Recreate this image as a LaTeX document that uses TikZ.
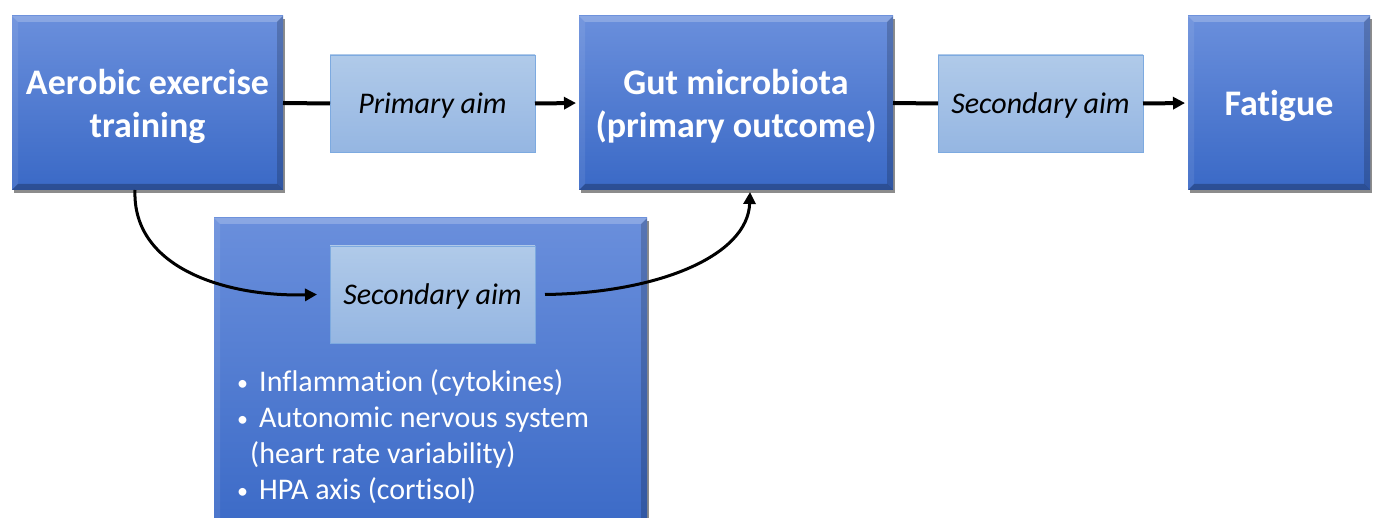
\documentclass[tikz,border=0pt]{standalone}
\usepackage{fontspec}
\setmainfont{Carlito}[Ligatures={NoCommon}]
\usetikzlibrary{shadows,calc,arrows.meta}
\definecolor{boxtop}{HTML}{6A8FDC}
\definecolor{boxbot}{HTML}{3A69C6}
\definecolor{lighttop}{HTML}{B0CAE9}
\definecolor{lightbot}{HTML}{95B6E2}
\definecolor{lightedge}{HTML}{7DAAE0}
\tikzset{
 bigbox/.style={rectangle, inner sep=0pt, outer sep=0pt, top color=boxtop, bottom color=boxbot,
   text=white, font=\bfseries\fontsize{36}{43}\selectfont, align=center,
   drop shadow={shadow xshift=2pt, shadow yshift=-3pt, opacity=0.45, fill=black}},
 twoline/.style={text height=80pt, text depth=10pt},
 oneline/.style={text height=32pt, text depth=6pt},
 aimbox/.style={rectangle, inner sep=0pt, outer sep=0pt, top color=lighttop, bottom color=lightbot,
   draw=lightedge, line width=0.8pt, font=\itshape\fontsize{30}{34}\selectfont,
   minimum width=205pt, minimum height=97pt, text height=25pt, text depth=4pt},
 conn/.style={line width=4pt, black},
 arr/.style={conn, shorten >=3pt, -{Triangle[length=12pt,width=12pt]}},
 curvearr/.style={line width=3pt, black, -{Triangle[length=12pt,width=12pt]}},
}
\newcommand\bevelfx[2]{%
 \fill[white,opacity=0.22] (#1.north west) -- (#1.north east) -- ([xshift=-#2,yshift=-#2]#1.north east) -- ([xshift=#2,yshift=-#2]#1.north west) -- cycle;
 \fill[white,opacity=0.08] (#1.north west) -- ([xshift=#2,yshift=-#2]#1.north west) -- ([xshift=#2,yshift=#2]#1.south west) -- (#1.south west) -- cycle;
 \fill[black,opacity=0.18] (#1.north east) -- ([xshift=-#2,yshift=-#2]#1.north east) -- ([xshift=-#2,yshift=#2]#1.south east) -- (#1.south east) -- cycle;
 \fill[black,opacity=0.25] (#1.south west) -- ([xshift=#2,yshift=#2]#1.south west) -- ([xshift=-#2,yshift=#2]#1.south east) -- (#1.south east) -- cycle;
}
\newcommand\blt{\makebox[22pt][l]{\fontsize{22}{22}\selectfont\raisebox{1pt}{\textbullet}}}
\begin{document}
\begin{tikzpicture}[x=1pt,y=-1pt]
\useasboundingbox (0,0) rectangle (1378,518);
\clip (0,0) rectangle (1378,518);
% top row
\node[bigbox, twoline, minimum width=271pt, minimum height=174pt] (ex) at (147.5,103) {Aerobic exercise\\training};
\bevelfx{ex}{6pt}
\node[bigbox, twoline, minimum width=314pt, minimum height=174pt] (gut) at (736,103) {Gut microbiota\\(primary outcome)};
\bevelfx{gut}{6pt}
\node[bigbox, oneline, minimum width=182pt, minimum height=174pt] (fat) at (1279,103) {Fatigue};
\bevelfx{fat}{6pt}
\node[aimbox] (pa) at (432.5,103.5) {Primary aim};
\node[aimbox] (sa) at (1040.5,103.5) {Secondary aim};
% bottom box
\node[bigbox, minimum width=433pt, minimum height=320pt] (mech) at (430.5,378) {};
\bevelfx{mech}{6pt}
\node[aimbox] (sb) at (432.5,294.5) {Secondary aim};
\node[anchor=base west, inner sep=0pt, text=white, align=left, font=\fontsize{30}{35.7}\selectfont] (list) at (237,499)
 {\blt Inflammation (cytokines)\\
  \blt Autonomic nervous system\\
  \hspace*{13pt}(heart rate variability)\\
  \blt HPA axis (cortisol)};
% connectors
\draw[conn] (ex.east) -- (pa.west);
\draw[arr] (pa.east) -- (gut.west);
\draw[conn] (gut.east) -- (sa.west);
\draw[arr] (sa.east) -- (fat.west);
\coordinate (c1s) at ([xshift=-12.5pt]ex.south);
\coordinate (c1e) at ([xshift=-13pt]sb.west);
\coordinate (c2s) at ([xshift=10pt]sb.east);
\coordinate (c2e) at ([xshift=14pt,yshift=-2pt]gut.south);
\draw[curvearr] (c1s) .. controls (132,270) and (230,297) .. (c1e);
\draw[curvearr] (c2s) .. controls (660,293) and (748,255) .. (c2e);
\end{tikzpicture}
\end{document}
